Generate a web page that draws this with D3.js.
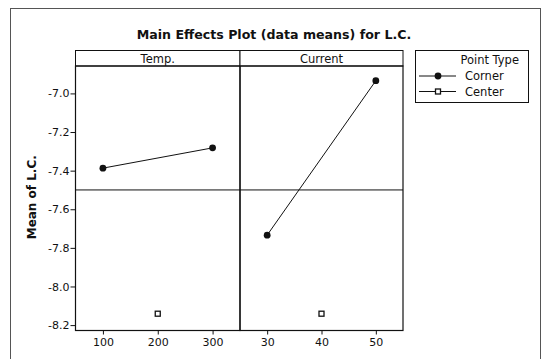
<!DOCTYPE html>
<html>
<head>
<meta charset="utf-8">
<script src="https://cdn.jsdelivr.net/npm/d3@7"></script>
<style>
  html, body { margin: 0; padding: 0; background: #fff; }
  svg { display: block; }
  text { font-family: "DejaVu Sans", "Liberation Sans", sans-serif; fill: #111; }
</style>
</head>
<body>
<svg id="chart" width="542" height="359"></svg>
<script>
// Factor panels and their levels
const factors = ["Temp.", "Current"];
const tempLevels = [100, 200, 300];
const currentLevels = [30, 40, 50];

// Mean of L.C. at each level (corner points) and at the center point
const tempCorner = [
  { level: 100, mean: -7.387 },
  { level: 300, mean: -7.282 }
];
const tempCenter = [{ level: 200, mean: -8.141 }];
const currentCorner = [
  { level: 30, mean: -7.734 },
  { level: 50, mean: -6.934 }
];
const currentCenter = [{ level: 40, mean: -8.141 }];

// Overall mean reference line
const overallMean = -7.5;

const yTicks = [-7.0, -7.2, -7.4, -7.6, -7.8, -8.0, -8.2];
const legendItems = ["Corner", "Center"];

const svg = d3.select("#chart");
const ink = "#111";

// Outer frame
svg.append("rect")
  .attr("x", 10.5).attr("y", 8.5)
  .attr("width", 530).attr("height", 360)
  .attr("fill", "none").attr("stroke", "#555").attr("stroke-width", 1);

// Title
svg.append("text")
  .attr("x", 274).attr("y", 39)
  .attr("text-anchor", "middle")
  .style("font-size", "12.6px").style("font-weight", "bold")
  .text("Main Effects Plot (data means) for L.C.");

// Layout
const plotTop = 66, plotBottom = 330.5, headerTop = 50.5;
const panels = [
  { name: factors[0], x0: 75.5, x1: 240, domain: [50, 350], ticks: tempLevels, corner: tempCorner, center: tempCenter },
  { name: factors[1], x0: 240, x1: 403, domain: [25, 55], ticks: currentLevels, corner: currentCorner, center: currentCenter }
];

const y = d3.scaleLinear().domain([-8.228, -6.858]).range([plotBottom, plotTop]);

// Y axis
const yAxis = d3.axisLeft(y)
  .tickValues(yTicks)
  .tickFormat(d3.format(".1f"))
  .tickSize(5).tickSizeOuter(0);
const gy = svg.append("g").attr("transform", `translate(${panels[0].x0},0)`).call(yAxis);
gy.select(".domain").remove();
gy.selectAll("line").attr("stroke", ink);
gy.selectAll("text")
  .style("font-size", "11px")
  .style("font-family", "'DejaVu Sans', sans-serif")
  .attr("x", -6)
  .text(d => d3.format(".1f")(d).replace("−", "-"));

// Y axis title
svg.append("text")
  .attr("transform", `translate(36,${(plotTop + plotBottom) / 2 - 1}) rotate(-90)`)
  .attr("text-anchor", "middle")
  .style("font-size", "12px").style("font-weight", "bold")
  .text("Mean of L.C.");

panels.forEach(p => {
  const x = d3.scaleLinear().domain(p.domain).range([p.x0, p.x1]);

  // Header strip
  svg.append("rect")
    .attr("x", p.x0).attr("y", headerTop)
    .attr("width", p.x1 - p.x0).attr("height", plotTop - headerTop)
    .attr("fill", "#fff").attr("stroke", ink).attr("stroke-width", 1);
  svg.append("text")
    .attr("x", (p.x0 + p.x1) / 2).attr("y", 63)
    .attr("text-anchor", "middle")
    .style("font-size", "11.5px")
    .text(p.name);

  // Panel box
  svg.append("rect")
    .attr("x", p.x0).attr("y", plotTop)
    .attr("width", p.x1 - p.x0).attr("height", plotBottom - plotTop)
    .attr("fill", "none").attr("stroke", ink).attr("stroke-width", 1.2);

  // X axis
  const xAxis = d3.axisBottom(x).tickValues(p.ticks).tickSize(4).tickSizeOuter(0);
  const gx = svg.append("g").attr("transform", `translate(0,${plotBottom})`).call(xAxis);
  gx.select(".domain").remove();
  gx.selectAll("line").attr("stroke", ink);
  gx.selectAll("text")
    .style("font-size", "11px")
    .style("font-family", "'DejaVu Sans', sans-serif")
    .attr("y", 8);

  // Reference line at overall mean
  svg.append("line")
    .attr("x1", p.x0).attr("x2", p.x1)
    .attr("y1", y(overallMean)).attr("y2", y(overallMean))
    .attr("stroke", ink).attr("stroke-width", 1);

  // Corner means: line + filled dots
  const line = d3.line().x(d => x(d.level)).y(d => y(d.mean));
  svg.append("path")
    .datum(p.corner)
    .attr("d", line)
    .attr("fill", "none").attr("stroke", ink).attr("stroke-width", 1);
  svg.selectAll(null)
    .data(p.corner)
    .enter().append("circle")
    .attr("cx", d => x(d.level)).attr("cy", d => y(d.mean))
    .attr("r", 3.4).attr("fill", ink);

  // Center point means: open squares
  svg.selectAll(null)
    .data(p.center)
    .enter().append("rect")
    .attr("x", d => x(d.level) - 2.5).attr("y", d => y(d.mean) - 2.5)
    .attr("width", 5).attr("height", 5)
    .attr("fill", "#fff").attr("stroke", ink).attr("stroke-width", 1.3);
});

// Legend
const lg = svg.append("g");
lg.append("rect")
  .attr("x", 415.5).attr("y", 50.5)
  .attr("width", 113).attr("height", 52)
  .attr("fill", "#fff").attr("stroke", ink).attr("stroke-width", 1);
lg.append("text")
  .attr("x", 519).attr("y", 64)
  .attr("text-anchor", "end")
  .style("font-size", "11.5px")
  .text("Point Type");
legendItems.forEach((name, i) => {
  const ly = 76 + i * 15.5;
  lg.append("line")
    .attr("x1", 419).attr("x2", 456)
    .attr("y1", ly).attr("y2", ly)
    .attr("stroke", ink).attr("stroke-width", 1);
  if (name === "Corner") {
    lg.append("circle").attr("cx", 438).attr("cy", ly).attr("r", 3.4).attr("fill", ink);
  } else {
    lg.append("rect")
      .attr("x", 435.5).attr("y", ly - 2.5).attr("width", 5).attr("height", 5)
      .attr("fill", "#fff").attr("stroke", ink).attr("stroke-width", 1.3);
  }
  lg.append("text")
    .attr("x", 465).attr("y", ly + 4)
    .style("font-size", "11.5px")
    .text(name);
});
</script>
</body>
</html>
